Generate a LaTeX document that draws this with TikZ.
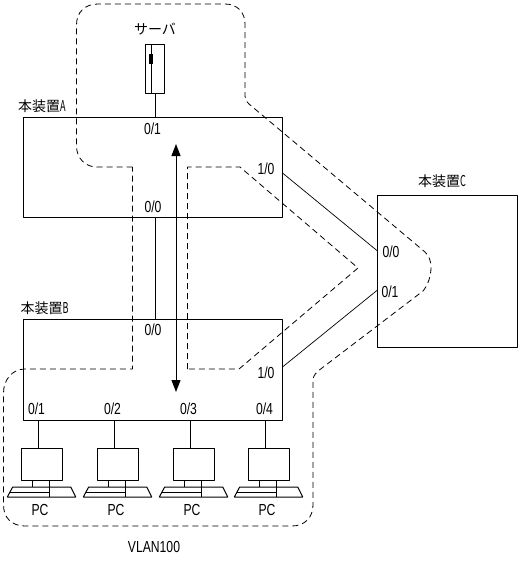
\documentclass[tikz,border=0pt]{standalone}
\usepackage{fontspec}
\setmainfont{Liberation Sans}
\newfontfamily\jpfont{Noto Sans CJK JP}
\usetikzlibrary{arrows.meta}
\newcommand{\thinchar}[1]{\scalebox{0.7}[1.15]{\fontsize{13pt}{13pt}\selectfont #1}}
\tikzset{
  devbox/.style={draw,inner sep=0pt,outer sep=0pt},
  portlabel/.style={inner sep=0pt,font=\fontsize{16pt}{16pt}\selectfont,transform shape,xscale=0.76},
  namelabel/.style={inner sep=0pt,font=\jpfont\fontsize{14pt}{14pt}\selectfont},
  vlanline/.style={line width=0.8pt,dash pattern=on 6pt off 4pt}
}
\begin{document}
\begin{tikzpicture}[x=1pt,y=-1pt,line width=1pt,line join=round]
\useasboundingbox (0,0) rectangle (520,562);

% devices
\node[devbox,minimum width=259pt,minimum height=100pt] (devA) at (153,167) {};
\node[devbox,minimum width=259pt,minimum height=100.5pt] (devB) at (153,369.75) {};
\node[devbox,minimum width=140pt,minimum height=151.5pt] (devC) at (447.5,271.25) {};

% server
\node[devbox,minimum width=19pt,minimum height=49pt] (srv) at (155,68.5) {};
\draw (151.5,44) -- (151.5,93);
\draw[line width=4.5pt] (151,54) -- (151,64);

% ports on the sloped links
\coordinate (a10) at (282.5,173);
\coordinate (b10) at (282.5,367);
\coordinate (c00) at (377.5,251);
\coordinate (c01) at (377.5,290);

% links
\draw (srv) -- (devA.north -| srv);
\draw (devA.south -| srv) -- (devB.north -| srv);
\draw[line width=0.7pt] (a10) -- (c00);
\draw[line width=0.7pt] (b10) -- (c01);

% traffic arrow
\coordinate (arrowtop) at (176,144);
\coordinate (arrowbot) at (176,392);
\draw[{Triangle[length=12pt,width=9pt]}-{Triangle[length=12pt,width=9pt]}] (arrowtop) -- (arrowbot);

% PCs
\foreach \n/\x in {1/21.5,2/97.5,3/173.5,4/248.5} {
  \node[devbox,minimum width=40.5pt,minimum height=32pt,anchor=north west] (pc\n) at (\x,448.5) {};
  \coordinate (port\n) at (\x+16.5,448.5);
  \draw (port\n) -- (devB.south -| port\n);
  \draw (\x+11,480.5) -- (\x+11,487);
  \draw (\x+28,480.5) -- (\x+28,497);
  \draw (\x-8.8,487) -- (\x+49.2,487) -- (\x+54.2,497) -- (\x-14.2,497) -- cycle;
  \draw (\x-11.5,492) -- (\x+28,492);
  \node[portlabel] (pclabel\n) at (\x+18.5,509.5) {PC};
}

% VLAN area, outer and inner outline
\draw[vlanline] (132.5,167) -- (97,167) .. controls (85,167) and (76.5,158) .. (76.5,146)
  -- (76.5,25) .. controls (76.5,12) and (85,4) .. (98,4)
  -- (225,4) .. controls (237,4) and (245,12) .. (245,24)
  -- (245,95) .. controls (245,99) and (246,101) .. (249,104)
  -- (425,252) .. controls (429,256) and (431,261) .. (431,267)
  .. controls (431,276) and (428,285) .. (423,291)
  -- (322,368) .. controls (316,372) and (313,376) .. (313,380)
  -- (313,505) .. controls (313,518) and (304,526) .. (292,526)
  -- (25,526) .. controls (12,526) and (3.5,518) .. (3.5,505)
  -- (3.5,393) .. controls (3.5,380) and (12,369) .. (25,369)
  -- (132.5,369) -- cycle;
\draw[vlanline] (187.5,369) -- (187.5,167) -- (240,167) -- (358,268) -- (239,369) -- cycle;

% labels
\node[namelabel] (srvlabel) at (155,29) {サーバ};
\node[namelabel] (nameA) at (42,106) {本装置\thinchar{A}};
\node[namelabel] (nameB) at (44.5,308) {本装置\thinchar{B}};
\node[namelabel] (nameC) at (442,181) {本装置\thinchar{C}};
\node[portlabel] (a01) at (152.5,129) {0/1};
\node[portlabel] (a00) at (153,207) {0/0};
\node[portlabel] (a10label) at (266,169) {1/0};
\node[portlabel] (b00) at (153,330) {0/0};
\node[portlabel] (b10label) at (266,373) {1/0};
\node[portlabel] (b01) at (36.5,409) {0/1};
\node[portlabel] (b02) at (112.5,409) {0/2};
\node[portlabel] (b03) at (188.5,409) {0/3};
\node[portlabel] (b04) at (264.5,409) {0/4};
\node[portlabel] (c00label) at (391,252) {0/0};
\node[portlabel] (c01label) at (390,292) {0/1};
\node[portlabel] (vlan) at (154,547) {VLAN100};

\end{tikzpicture}
\end{document}
